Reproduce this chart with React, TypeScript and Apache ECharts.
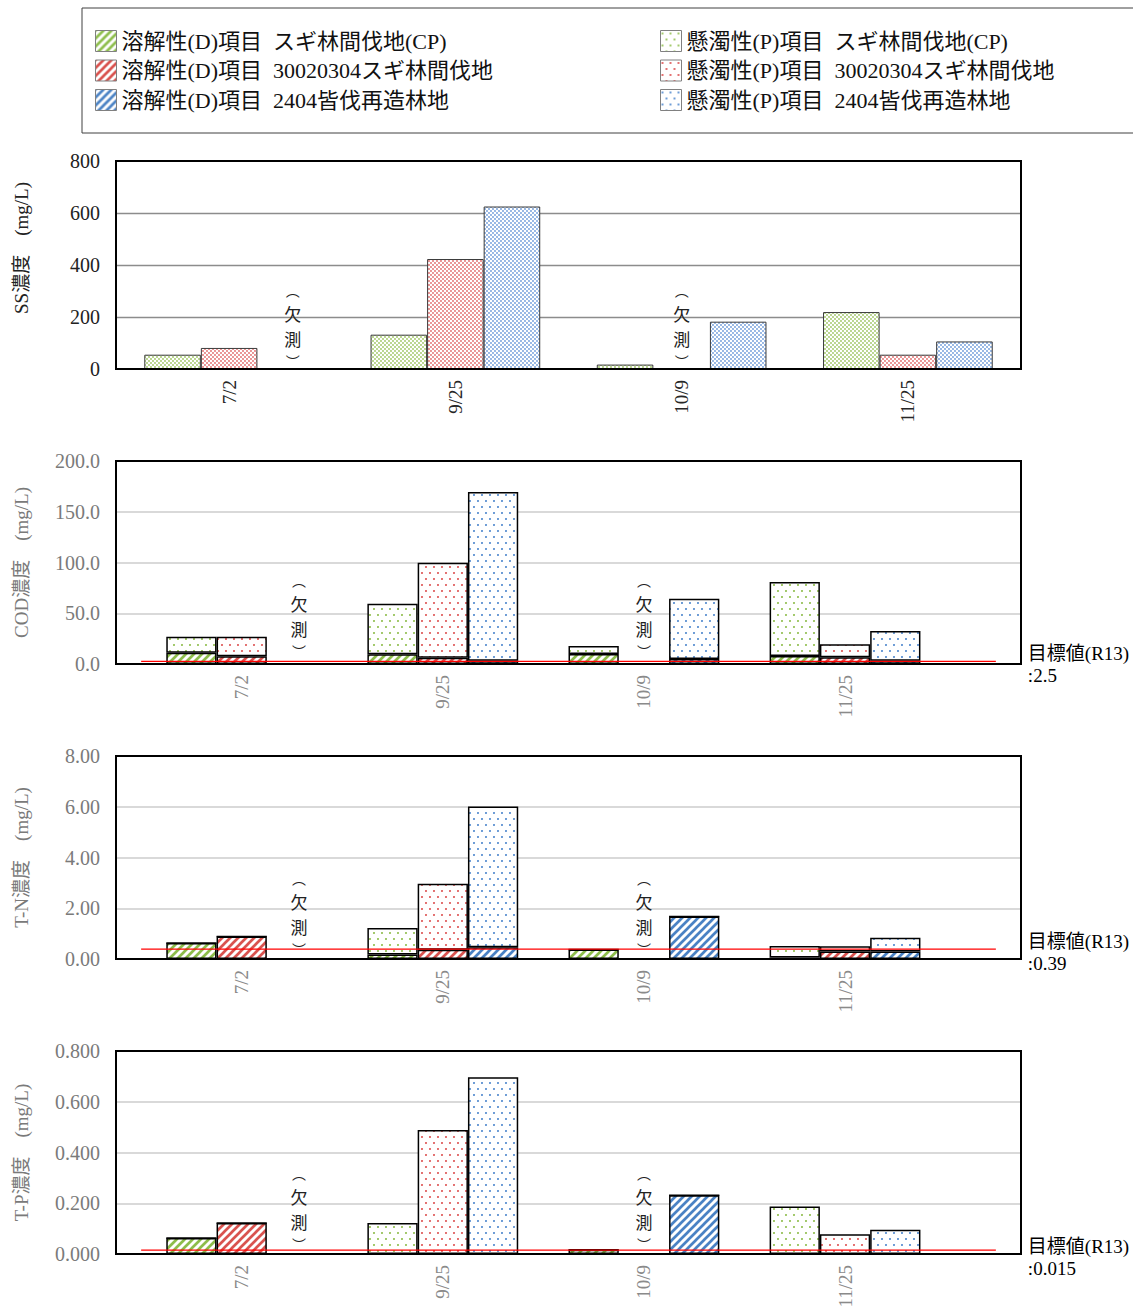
import React, { useEffect, useRef } from 'react';
import * as echarts from 'echarts';

// ---------- data ----------
const CATEGORIES = ['7/2', '9/25', '10/9', '11/25'];
const SITES = ['スギ林間伐地(CP)', '30020304スギ林間伐地', '2404皆伐再造林地'];
const D_ITEM = '溶解性(D)項目';
const P_ITEM = '懸濁性(P)項目';

// SS (suspended only)
const SS_P_CP = [55, 132, 17, 219];
const SS_P_TH = [81, 423, null, 55];
const SS_P_CC = [null, 625, 182, 106];

// COD
const COD_D_CP = [11.2, 9.5, 9.8, 7.9];
const COD_P_CP = [15.7, 49.9, 7.9, 72.9];
const COD_D_TH = [7.6, 6.2, null, 6.6];
const COD_P_TH = [19.3, 93.6, null, 12.8];
const COD_D_CC = [null, 3.3, 4.9, 3.3];
const COD_P_CC = [null, 166.1, 59.4, 29.2];

// T-N
const TN_D_CP = [0.63, 0.18, 0.37, 0.06];
const TN_P_CP = [0, 1.04, 0, 0.45];
const TN_D_TH = [0.89, 0.36, null, 0.3];
const TN_P_TH = [0, 2.61, null, 0.2];
const TN_D_CC = [null, 0.46, 1.67, 0.3];
const TN_P_CC = [null, 5.55, 0, 0.54];

// T-P
const TP_D_CP = [0.063, 0, 0.017, 0];
const TP_P_CP = [0, 0.122, 0, 0.187];
const TP_D_TH = [0.122, 0, null, 0];
const TP_P_TH = [0, 0.489, null, 0.078];
const TP_D_CC = [null, 0, 0.232, 0];
const TP_P_CC = [null, 0.697, 0, 0.096];

// targets (R13)
const TARGET_COD = 2.5;
const TARGET_TN = 0.39;
const TARGET_TP = 0.015;

// axis ranges [min, max, interval]
const SS_AXIS = [0, 800, 200];
const COD_AXIS = [0, 200, 50];
const TN_AXIS = [0, 8, 2];
const TP_AXIS = [0, 0.8, 0.2];

// ---------- layout / style ----------
const W = 1133;
const H = 1315;
const PLOT_LEFT = 116;
const PLOT_WIDTH = 905;
const FRAME_UNITS = 4.5;
const CAT_START = 0.125;
const TARGET_END = 4.375;
const MISSING_NUDGE = [7, 0, 0, 0];
const SERIF = "'Liberation Serif','Noto Sans CJK JP',serif";
const GOTHIC = "'Noto Sans CJK JP',sans-serif";
const SITE_COLORS = ['#8dbd4b', '#d9534f', '#4a82c4'];
const DOT_COLORS = ['#8cbc48', '#dc4f4f', '#4a84cc'];
const SS_DOT_COLORS = ['#9cc45e', '#e06666', '#6b98d8'];

function makeHatch(color: string) {
  const s = 8;
  const c = document.createElement('canvas');
  c.width = s;
  c.height = s;
  const g = c.getContext('2d')!;
  g.fillStyle = '#fff';
  g.fillRect(0, 0, s, s);
  g.strokeStyle = color;
  g.lineWidth = 2.7;
  g.beginPath();
  for (const o of [-s, 0, s]) {
    g.moveTo(o - 1, s + 1);
    g.lineTo(o + s + 1, -1);
  }
  g.stroke();
  return { image: c.toDataURL(), repeat: 'repeat', imageWidth: s, imageHeight: s };
}

function makeDots(color: string, w: number, h: number, pts: number[][], r: number) {
  const c = document.createElement('canvas');
  c.width = w;
  c.height = h;
  const g = c.getContext('2d')!;
  g.fillStyle = '#fff';
  g.fillRect(0, 0, w, h);
  g.fillStyle = color;
  for (const [x, y] of pts) {
    g.beginPath();
    g.arc(x, y, r, 0, Math.PI * 2);
    g.fill();
  }
  return { image: c.toDataURL(), repeat: 'repeat', imageWidth: w, imageHeight: h };
}

function missingItem(gap: number, idx: number) {
  return {
    value: 0,
    itemStyle: { color: 'rgba(0,0,0,0)', borderWidth: 0 },
    label: {
      show: true,
      position: 'top',
      distance: gap,
      offset: [MISSING_NUDGE[idx], 0],
      formatter: '{p|︵}\n{c|欠}\n{c|測}\n{p|︶}',
      rich: {
        p: { fontSize: 14, lineHeight: 20.5, fontFamily: GOTHIC, color: '#222' },
        c: { fontSize: 17, lineHeight: 25, fontFamily: GOTHIC, color: '#222' },
      },
    },
  };
}

function buildOption() {
  const hatch = SITE_COLORS.map((c) => makeHatch(c));
  const dots = DOT_COLORS.map((c) => makeDots(c, 8, 12, [[2, 3], [6, 9]], 1.05));
  const fine = SS_DOT_COLORS.map((c) => makeDots(c, 4, 4, [[1, 1], [3, 3]], 0.9));

  const panels = [
    {
      key: 'cod', top: 461, height: 203, inset: true, gray: true, name: 'COD濃度　(mg/L)',
      axis: COD_AXIS, decimals: 1, d: [COD_D_CP, COD_D_TH, COD_D_CC], p: [COD_P_CP, COD_P_TH, COD_P_CC],
      target: TARGET_COD, targetDy: 3, missGap: 3, namePad: 0, dense: false,
    },
    {
      key: 'tn', top: 756, height: 203, inset: true, gray: true, name: 'T-N濃度　(mg/L)',
      axis: TN_AXIS, decimals: 2, d: [TN_D_CP, TN_D_TH, TN_D_CC], p: [TN_P_CP, TN_P_TH, TN_P_CC],
      target: TARGET_TN, targetDy: 3, missGap: 0, namePad: 0, dense: false,
    },
    {
      key: 'tp', top: 1051, height: 203, inset: true, gray: true, name: 'T-P濃度　(mg/L)',
      axis: TP_AXIS, decimals: 3, d: [TP_D_CP, TP_D_TH, TP_D_CC], p: [TP_P_CP, TP_P_TH, TP_P_CC],
      target: TARGET_TP, targetDy: 7, missGap: 0, namePad: 0, dense: false,
    },
    {
      key: 'ss', top: 161, height: 208, inset: false, gray: false, name: 'SS濃度　(mg/L)',
      axis: SS_AXIS, decimals: 0, d: null as any, p: [SS_P_CP, SS_P_TH, SS_P_CC],
      target: null as any, targetDy: 0, missGap: -2, namePad: 34, dense: true,
    },
  ];

  const grid: any[] = [];
  const xAxis: any[] = [];
  const yAxis: any[] = [];
  const series: any[] = [];

  panels.forEach((pn) => {
    const tickColor = pn.gray ? '#7a7a7a' : '#222';
    const catColor = pn.gray ? '#8a8a8a' : '#262626';
    const frame = grid.length;
    grid.push({
      left: PLOT_LEFT, top: pn.top, width: PLOT_WIDTH, height: pn.height, z: 10,
      show: true, borderColor: '#000', borderWidth: 2, backgroundColor: 'transparent',
    });
    const yVis = {
      type: 'value', gridIndex: frame, min: pn.axis[0], max: pn.axis[1], interval: pn.axis[2],
      axisLine: { show: false }, axisTick: { show: false },
      axisLabel: {
        margin: 16, fontSize: 20, color: tickColor, fontFamily: SERIF,
        formatter: (v: number) => v.toFixed(pn.decimals),
      },
      splitLine: {
        showMinLine: false, showMaxLine: false,
        lineStyle: pn.gray ? { color: '#d9d9d9', width: 2 } : { color: '#8c8c8c', width: 1.3 },
      },
      name: pn.name, nameLocation: 'middle', nameGap: 85,
      nameTextStyle: {
        fontSize: 19, color: tickColor, fontFamily: SERIF,
        padding: [0, 0, 0, pn.namePad],
      },
    };
    const catAxis = (gi: number) => ({
      type: 'category', gridIndex: gi, data: CATEGORIES,
      axisLine: { show: false }, axisTick: { show: false },
      axisLabel: { rotate: 90, margin: 11, fontSize: 19, color: catColor, fontFamily: SERIF },
    });
    let barX: number;
    let barY: number;
    let fx = -1;
    let fy = -1;
    if (pn.inset) {
      fx = xAxis.length;
      xAxis.push({ type: 'value', gridIndex: frame, min: 0, max: FRAME_UNITS, show: false });
      fy = yAxis.length;
      yAxis.push(yVis);
      const bg = grid.length;
      grid.push({
        left: PLOT_LEFT + (PLOT_WIDTH * CAT_START) / FRAME_UNITS, top: pn.top,
        width: (PLOT_WIDTH * CATEGORIES.length) / FRAME_UNITS, height: pn.height,
      });
      barX = xAxis.length;
      xAxis.push(catAxis(bg));
      barY = yAxis.length;
      yAxis.push({ type: 'value', gridIndex: bg, min: pn.axis[0], max: pn.axis[1], interval: pn.axis[2], show: false });
    } else {
      barX = xAxis.length;
      xAxis.push(catAxis(frame));
      barY = yAxis.length;
      yAxis.push(yVis);
    }

    SITES.forEach((site, i) => {
      const common = {
        type: 'bar', xAxisIndex: barX, yAxisIndex: barY, stack: `${pn.key}-${i}`,
        barGap: '0%', barCategoryGap: '25%',
      };
      if (pn.d) {
        series.push({
          ...common, name: `${D_ITEM}  ${site}`,
          data: pn.d[i].map((v: number | null) => (v == null ? '-' : v)),
          itemStyle: { color: hatch[i], borderColor: '#000', borderWidth: 1.5 },
        });
      }
      series.push({
        ...common, name: `${P_ITEM}  ${site}`,
        data: pn.p[i].map((v: number | null, k: number) => (v == null ? missingItem(pn.missGap, k) : v)),
        itemStyle: pn.dense
          ? { color: fine[i], borderColor: '#3a3a3a', borderWidth: 1 }
          : { color: dots[i], borderColor: '#000', borderWidth: 1.5 },
      });
    });

    if (pn.target != null) {
      series.push({
        type: 'line', xAxisIndex: fx, yAxisIndex: fy, z: 5, silent: true,
        symbol: 'none',
        data: [[CAT_START, pn.target], [TARGET_END, pn.target]],
        lineStyle: { color: '#ff0000', width: 1.3 },
        endLabel: {
          show: true, distance: 32, offset: [0, pn.targetDy],
          formatter: `目標値(R13)\n:${pn.target}`,
          fontSize: 19, lineHeight: 22, color: '#000', fontFamily: SERIF, align: 'left',
        },
      });
    }
  });

  return {
    animation: false,
    backgroundColor: '#fff',
    textStyle: { fontFamily: SERIF },
    grid, xAxis, yAxis, series,
    legend: [0, 1].map((col) => ({
      left: col ? 660 : 95, top: 30, orient: 'vertical', icon: 'rect',
      itemWidth: 21, itemHeight: 21, itemGap: 7.5, padding: 0, selectedMode: false,
      data: SITES.map((s) => `${col ? P_ITEM : D_ITEM}  ${s}`),
      textStyle: { fontSize: 22, fontFamily: SERIF, color: '#111' },
      itemStyle: { borderColor: '#808080', borderWidth: 1 },
    })),
    graphic: [
      {
        type: 'rect', silent: true,
        shape: { x: 82, y: 8, width: 1080, height: 125 },
        style: { fill: 'none', stroke: '#404040', lineWidth: 1 },
      },
    ],
  };
}

export default function App() {
  const ref = useRef<HTMLDivElement>(null);
  useEffect(() => {
    const chart = echarts.init(ref.current!, null, { renderer: 'svg', width: W, height: H });
    chart.setOption(buildOption() as any);
    return () => chart.dispose();
  }, []);
  return (
    <div
      ref={ref}
      style={{ position: 'absolute', left: 0, top: 0, width: W, height: H, background: '#fff' }}
    />
  );
}
